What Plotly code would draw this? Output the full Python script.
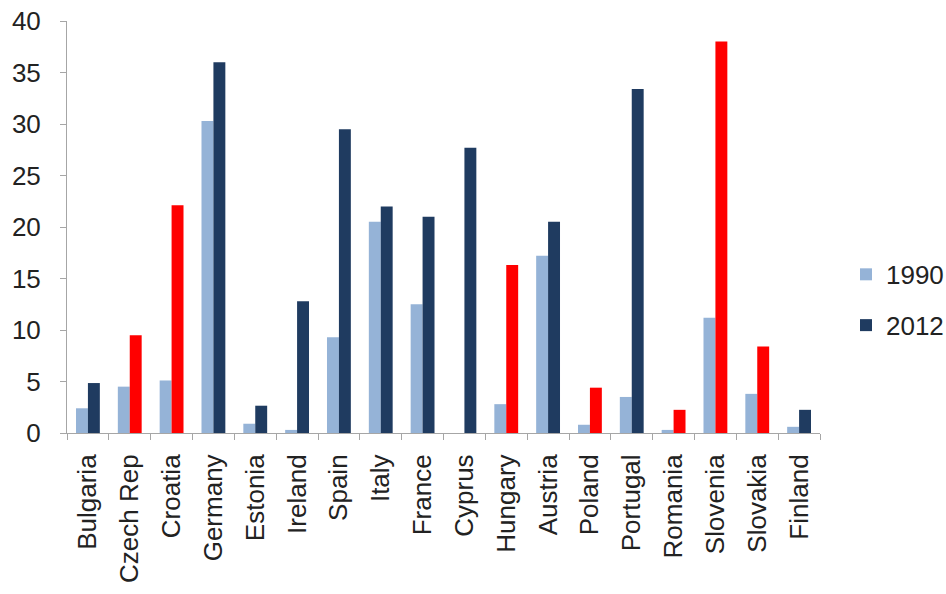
import plotly.graph_objects as go

countries = ["Bulgaria", "Czech Rep", "Croatia", "Germany", "Estonia", "Ireland",
             "Spain", "Italy", "France", "Cyprus", "Hungary", "Austria", "Poland",
             "Portugal", "Romania", "Slovenia", "Slovakia", "Finland"]
values_1990 = [2.4, 4.5, 5.1, 30.3, 0.9, 0.3, 9.3, 20.5, 12.5, 0.0, 2.8, 17.2,
               0.8, 3.5, 0.3, 11.2, 3.8, 0.6]
values_2012 = [4.85, 9.5, 22.1, 36.0, 2.65, 12.8, 29.5, 22.0, 21.0, 27.7, 16.3,
               20.5, 4.4, 33.4, 2.25, 38.0, 8.4, 2.25]
highlighted = ["Czech Rep", "Croatia", "Hungary", "Poland", "Romania", "Slovenia", "Slovakia"]

LIGHT = "#95B3D7"
DARK = "#1F3B60"
RED = "#FF0000"

colors_2012 = [RED if c in highlighted else DARK for c in countries]

fig = go.Figure()
fig.add_trace(go.Bar(x=countries, y=values_1990, name="1990",
                     marker=dict(color=LIGHT, line=dict(width=0)),
                     legendgroup="a"))
fig.add_trace(go.Bar(x=countries, y=values_2012, name="2012",
                     marker=dict(color=colors_2012, line=dict(width=0)),
                     legendgroup="b"))

fig.update_layout(
    width=946, height=594,
    margin=dict(l=67, r=126, t=21, b=161, autoexpand=False),
    plot_bgcolor="white", paper_bgcolor="white",
    font=dict(family="Liberation Sans, Arial, sans-serif", color="#222222"),
    barmode="group", bargap=0.43, bargroupgap=0,
    showlegend=True,
    legend=dict(x=1.0345, xanchor="left", y=0.323, yanchor="middle",
                font=dict(size=26), tracegroupgap=14,
                itemwidth=30, bgcolor="rgba(0,0,0,0)"),
    xaxis=dict(showline=True, linecolor="#A6A6A6", linewidth=1,
               ticks="outside", tickson="boundaries", ticklen=6, tickcolor="#A6A6A6",
               tickangle=-90, tickfont=dict(size=26), ticklabelstandoff=10,
               showgrid=False),
    yaxis=dict(range=[0, 40], dtick=5, showline=True, linecolor="#A6A6A6",
               linewidth=1, ticks="outside", ticklen=6, tickcolor="#A6A6A6",
               tickfont=dict(size=26), ticklabelstandoff=14,
               showgrid=False, zeroline=False),
)

fig.write_html("out.html")
